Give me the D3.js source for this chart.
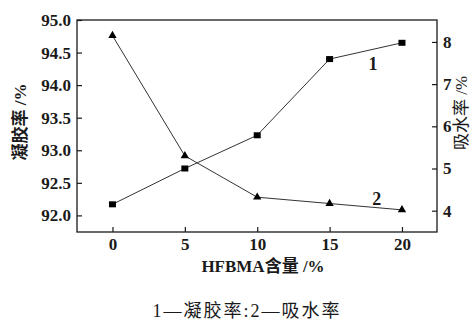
<!DOCTYPE html>
<html><head><meta charset="utf-8">
<script src="https://cdn.jsdelivr.net/npm/d3@7"></script>
<style>body{margin:0;background:#fff}svg{display:block}</style>
</head><body>
<svg id="c" width="473" height="322"></svg>
<script>
const categories = [0, 5, 10, 15, 20];
const gelRate = [92.17, 92.72, 93.23, 94.40, 94.65];       // series 1, left axis
const waterAbs = [8.15, 5.30, 4.32, 4.17, 4.02];           // series 2, right axis
const leftTicks = [92.0, 92.5, 93.0, 93.5, 94.0, 94.5, 95.0];
const rightTicks = [4, 5, 6, 7, 8];
const xTicks = [0, 5, 10, 15, 20];
const seriesLabels = ["1", "2"];
const xTitle = "HFBMA含量 /%";
const leftTitle = "凝胶率 /%";
const rightTitle = "吸水率 /%";
const caption = "1—凝胶率:2—吸水率";

const svg = d3.select("#c");
const L = 77, R = 437, T = 20, B = 232;
const x = d3.scaleLinear().domain([-2.45, 22.42]).range([L, R]);
const yL = d3.scaleLinear().domain([91.745, 95.0]).range([B, T]);
const yR = d3.scaleLinear().domain([3.495, 8.52]).range([B, T]);

const serif = "'Liberation Serif','Times New Roman',serif";
const cjk = "'Liberation Serif','Noto Sans CJK SC',serif";
const ink = "#1a1a1a";

svg.append("rect").attr("x", L).attr("y", T).attr("width", R - L).attr("height", B - T)
  .attr("fill", "none").attr("stroke", ink).attr("stroke-width", 1.3);

function styleAxis(g) {
  g.select(".domain").remove();
  g.selectAll("line").attr("stroke", ink).attr("stroke-width", 1.2);
  g.selectAll("text").attr("fill", ink).attr("font-family", serif)
    .attr("font-weight", "bold").attr("font-size", 17);
}
const gx = svg.append("g").attr("transform", `translate(0,${B})`)
  .call(d3.axisBottom(x).tickValues(xTicks).tickSize(-5).tickPadding(9).tickFormat(d3.format("d")));
styleAxis(gx);
gx.selectAll("text").attr("dy", "0.71em").attr("y", 6);

const gl = svg.append("g").attr("transform", `translate(${L},0)`)
  .call(d3.axisLeft(yL).tickValues(leftTicks).tickSize(-5).tickPadding(6).tickFormat(d3.format(".1f")));
styleAxis(gl);

const gr = svg.append("g").attr("transform", `translate(${R},0)`)
  .call(d3.axisRight(yR).tickValues(rightTicks).tickSize(-5).tickPadding(6).tickFormat(d3.format("d")));
styleAxis(gr);

const line1 = d3.line().x((d, i) => x(categories[i])).y(d => yL(d));
const line2 = d3.line().x((d, i) => x(categories[i])).y(d => yR(d));
svg.append("path").attr("d", line1(gelRate)).attr("fill", "none").attr("stroke", "#333").attr("stroke-width", 1);
svg.append("path").attr("d", line2(waterAbs)).attr("fill", "none").attr("stroke", "#333").attr("stroke-width", 1);

svg.selectAll(".sq").data(gelRate).enter().append("rect")
  .attr("x", (d, i) => x(categories[i]) - 3.5).attr("y", d => yL(d) - 3)
  .attr("width", 7).attr("height", 6).attr("fill", "#000");
const tri = d3.symbol().type(d3.symbolTriangle).size(30);
svg.selectAll(".tr").data(waterAbs).enter().append("path")
  .attr("d", tri).attr("transform", (d, i) => `translate(${x(categories[i])},${yR(d)})`)
  .attr("fill", "#000");

svg.append("text").attr("x", x(18.0)).attr("y", 70).attr("text-anchor", "middle")
  .attr("font-family", serif).attr("font-weight", "bold").attr("font-size", 18).attr("fill", ink).text(seriesLabels[0]);
svg.append("text").attr("x", x(18.25)).attr("y", 205).attr("text-anchor", "middle")
  .attr("font-family", serif).attr("font-weight", "bold").attr("font-size", 18).attr("fill", ink).text(seriesLabels[1]);

svg.append("text").attr("x", 263).attr("y", 272).attr("text-anchor", "middle")
  .attr("font-family", cjk).attr("font-weight", "bold").attr("font-size", 17).attr("fill", ink).text(xTitle);
svg.append("text").attr("transform", "translate(26,122) rotate(-90)").attr("text-anchor", "middle")
  .attr("font-family", cjk).attr("font-weight", "bold").attr("font-size", 17).attr("fill", ink).text(leftTitle);
svg.append("text").attr("transform", "translate(467,113) rotate(-90)").attr("text-anchor", "middle")
  .attr("font-family", cjk).attr("font-weight", "normal").attr("font-size", 17).attr("fill", ink).text(rightTitle);

svg.append("text").attr("x", 247).attr("y", 317).attr("text-anchor", "middle")
  .attr("font-family", cjk).attr("font-size", 18).attr("letter-spacing", 2).attr("fill", ink).text(caption);
</script>
</body></html>
